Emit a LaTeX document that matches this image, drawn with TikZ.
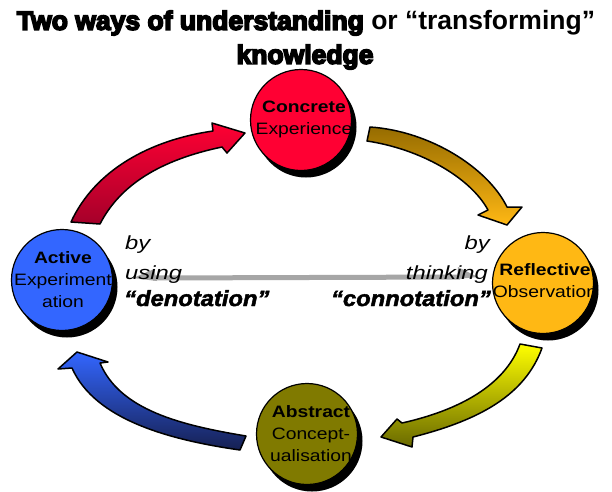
\documentclass[tikz,border=0pt]{standalone}
\usepackage{fontspec}
\usepackage{graphicx}
\setmainfont{Liberation Sans}
\newfontfamily\heavyfont{Liberation Sans Bold}[FakeBold=6]
\newfontfamily\boldlabel{Liberation Sans Bold Italic}[FakeBold=2]
\usetikzlibrary{shadows}
\definecolor{cRed}{RGB}{255,0,51}
\definecolor{cRedDark}{RGB}{165,0,42}
\definecolor{cOrange}{RGB}{255,184,20}
\definecolor{cBrown}{RGB}{150,108,0}
\definecolor{cYellow}{RGB}{255,255,0}
\definecolor{cOliveDark}{RGB}{105,105,0}
\definecolor{cOlive}{RGB}{128,122,0}
\definecolor{cBlue}{RGB}{51,102,255}
\definecolor{cNavy}{RGB}{22,32,82}
\definecolor{cGray}{RGB}{166,166,166}
\newcommand{\sx}[1]{\scalebox{1.17}[1]{#1}}
\newcommand{\sy}[1]{\scalebox{1.25}[1]{#1}}
\newcommand{\sz}[1]{\scalebox{1.08}[1]{#1}}
\begin{document}
\begin{tikzpicture}[x=1pt,y=-1pt,
  stage/.style={circle, minimum size=101pt, inner sep=0pt, draw=black, line width=1.2pt,
    drop shadow={shadow xshift=5pt, shadow yshift=-7pt, fill=black, opacity=1}},
  stagetext/.style={align=center, font=\fontsize{16.5}{22}\selectfont, inner sep=0pt},
  cyc/.style={draw=black, line width=1.5pt, line join=round},
  sidetext/.style={font=\fontsize{19}{22}\selectfont\itshape, inner sep=0pt},
  keytext/.style={font=\fontsize{22}{24}\selectfont\boldlabel, inner sep=0pt},
  link/.style={draw=cGray, line width=5pt},
  linkhead/.style={fill=cGray},
]
\useasboundingbox (0,0) rectangle (612,491);
\fill[white] (0,0) rectangle (612,491);

% title
\node[font=\fontsize{26.5}{30}\selectfont, inner sep=0pt] (title1) at (306,23)
  {\heavyfont Two ways of understanding\ {\normalfont\bfseries or “transforming”}};
\node[font=\fontsize{26.5}{30}\selectfont, inner sep=0pt] (title2) at (305,57)
  {\heavyfont knowledge};

% cycle arrows
\path[cyc, top color=cRed, bottom color=cRedDark]
  (71,222) .. controls (95,170) and (150,140) .. (213,131) -- (212,123) -- (245,133)
  -- (227,153) -- (222,147) .. controls (160,160) and (120,185) .. (100,224) -- cycle;
\path[cyc, top color=cBrown, bottom color=cOrange]
  (370,127) .. controls (430,131) and (488,168) .. (507,207) -- (522,207) -- (507,225)
  -- (478,215) -- (488,210) .. controls (470,177) and (420,149) .. (367,141) -- cycle;
\path[cyc, top color=cYellow, bottom color=cOliveDark]
  (520,344) .. controls (505,385) and (460,410) .. (402,423) -- (397,419) -- (381,437)
  -- (412,447) -- (413,437) .. controls (480,420) and (525,395) .. (542,348) -- cycle;
\path[cyc, top color=cBlue, bottom color=cNavy]
  (246,436) .. controls (180,425) and (120,410) .. (100,363) -- (108,362) -- (77,352)
  -- (58,369) -- (72,368) .. controls (95,420) and (170,440) .. (240,450) -- cycle;

% stages
\node[stage, fill=cRed, path picture={\node[stagetext] at ([xshift=3pt,yshift=1pt]path picture bounding box.center)
  {{\bfseries\sx{Concrete}}\\\sx{Experience}};}] (ce) at (301,120) {};
\node[stage, fill=cOrange, path picture={\node[stagetext] at ([xshift=2pt,yshift=2pt]path picture bounding box.center)
  {{\bfseries\sx{Reflective}}\\\sx{Observation}};}] (ro) at (543,283) {};
\node[stage, fill=cOlive, path picture={\node[stagetext] at ([xshift=4pt]path picture bounding box.center)
  {{\bfseries\sx{Abstract}}\\\sx{Concept-}\\\sx{ualisation}};}] (ac) at (307,434) {};
\node[stage, fill=cBlue, path picture={\node[stagetext] at ([xshift=1pt]path picture bounding box.center)
  {{\bfseries\sx{Active}}\\\sx{Experiment}\\\sx{ation}};}] (ae) at (62,280) {};

% middle link
\coordinate (dl) at (133,278);
\coordinate (dr) at (478,277);
\draw[link] ([xshift=20pt]dl) -- ([xshift=-18pt]dr);
\fill[linkhead] (dl) -- ([xshift=24pt,yshift=-3pt]dl) -- ([xshift=21pt,yshift=9pt]dl) -- cycle;
\fill[linkhead] (dr) -- ([xshift=-21pt,yshift=-2pt]dr) -- ([xshift=-20pt,yshift=10pt]dr) -- cycle;

% labels
\node[sidetext, anchor=base west] (by1) at (125,249) {\sy{by}};
\node[sidetext, anchor=base west] (using) at (125,279) {\sy{using}};
\node[keytext, anchor=base west] (deno) at (124,306) {\sz{“denotation”}};
\node[sidetext, anchor=base east] (by2) at (490,249) {\sy{by}};
\node[sidetext, anchor=base east] (think) at (488,279) {\sy{thinking}};
\node[keytext, anchor=base east] (conno) at (491,306) {\sz{“connotation”}};
\end{tikzpicture}
\end{document}
